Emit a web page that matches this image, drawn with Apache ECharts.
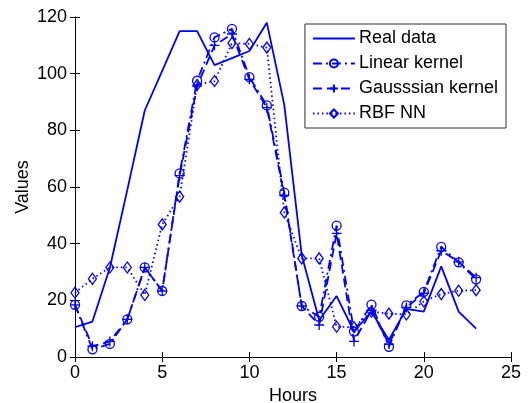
<!DOCTYPE html>
<html>
<head>
<meta charset="utf-8">
<script src="https://cdn.jsdelivr.net/npm/echarts@6/dist/echarts.min.js"></script>
<style>
  html, body { margin: 0; padding: 0; background: #fff; }
  #chart { width: 528px; height: 403px; }
</style>
</head>
<body>
<div id="chart"></div>
<script>
// hours 0..23
var hours = [0, 1, 2, 3, 4, 5, 6, 7, 8, 9, 10, 11, 12, 13, 14, 15, 16, 17, 18, 19, 20, 21, 22, 23];

var realData = [10.5, 12.5, 31.5, 59, 87, 101, 115, 115, 103, 105.5, 108, 118, 89, 36, 13, 21.5, 9, 16, 6, 17, 16, 32, 16, 10];
var linearKernel = [18.4, 2.7, 4.6, 13.3, 31.6, 23.3, 64.8, 97.5, 112.8, 115.8, 98.8, 88.8, 58, 18, 14.2, 46.4, 9, 18.5, 3.6, 18.2, 23, 38.9, 33.4, 27.4];
var gaussianKernel = [18.4, 3.8, 5.5, 13.3, 31.6, 23.3, 64, 95.6, 110, 114, 98, 88, 57, 18, 11.3, 43.6, 5.5, 16.5, 4.5, 17.5, 22.5, 37.5, 33.6, 28];
var rbfNN = [22.7, 27.6, 31.6, 31.6, 21.9, 46.8, 56.6, 96, 97.4, 110.8, 110.5, 109.2, 51, 34.8, 34.8, 10.7, 10.5, 16, 15.3, 15, 19.6, 22.2, 23.4, 23.6];

var xTicks = [0, 5, 10, 15, 20, 25];
var yTicks = [0, 20, 40, 60, 80, 100, 120];

var blue = '#0000ff';
var font = 'Arial, "Liberation Sans", sans-serif';

function pairs(vals) {
  return hours.map(function (h, i) { return [h, vals[i]]; });
}

function mkSeries(name, vals, dash, symbol, size) {
  var noMark = symbol === 'none';
  return {
    name: name,
    type: 'line',
    xAxisIndex: 0,
    yAxisIndex: 0,
    data: pairs(vals),
    color: blue,
    symbol: noMark ? 'circle' : symbol,
    symbolSize: size,
    showSymbol: !noMark,
    lineStyle: { color: blue, width: 1.8, type: dash },
    // no marker for real data: make the legend symbol invisible too
    itemStyle: { color: 'none', borderColor: noMark ? 'none' : blue, borderWidth: 1.3 },
    emphasis: { disabled: true },
    animation: false,
    z: 3
  };
}

var axisCommon = {
  type: 'value',
  axisLine: { show: true, lineStyle: { color: '#000', width: 1 } },
  axisTick: { show: true, inside: true, length: 5, lineStyle: { color: '#000' } },
  splitLine: { show: false }
};

var mychart = echarts.init(document.getElementById('chart'));

var option = {
  backgroundColor: '#fff',
  animation: false,
  grid: { left: 75, right: 17, top: 17, bottom: 46, containLabel: false, outerBoundsMode: 'none' },
  xAxis: [
    Object.assign({}, axisCommon, {
      min: xTicks[0], max: xTicks[xTicks.length - 1], interval: 5,
      position: 'bottom',
      name: 'Hours', nameLocation: 'middle', nameGap: 28,
      nameTextStyle: { color: '#000', fontSize: 18, fontFamily: font },
      axisLabel: { color: '#000', fontSize: 18, fontFamily: font, margin: 7 }
    }),
    Object.assign({}, axisCommon, {
      min: xTicks[0], max: xTicks[xTicks.length - 1], interval: 5,
      position: 'top',
      axisLabel: { show: false }
    })
  ],
  yAxis: [
    Object.assign({}, axisCommon, {
      min: yTicks[0], max: yTicks[yTicks.length - 1], interval: 20,
      position: 'left',
      name: 'Values', nameLocation: 'middle', nameGap: 43, nameMoveOverlap: false,
      nameTextStyle: { color: '#000', fontSize: 18, fontFamily: font },
      axisLabel: { color: '#000', fontSize: 18, fontFamily: font, margin: 8 }
    }),
    Object.assign({}, axisCommon, {
      min: yTicks[0], max: yTicks[yTicks.length - 1], interval: 20,
      position: 'right',
      axisLabel: { show: false }
    })
  ],
  legend: {
    orient: 'vertical',
    right: 22,
    top: 24,
    padding: [4, 8, 4, 7],
    itemWidth: 42,
    itemHeight: 10,
    itemGap: 4,
    backgroundColor: '#fff',
    borderColor: '#333',
    borderWidth: 1,
    borderRadius: 0,
    textStyle: { color: '#000', fontSize: 18, lineHeight: 21, fontFamily: font, padding: [0, 0, 0, -1] },
    data: ['Real data', 'Linear kernel', 'Gausssian kernel', 'RBF NN']
  },
  series: [
    mkSeries('Real data', realData, 'solid', 'none', 0),
    mkSeries('Linear kernel', linearKernel, [9, 4, 2, 4], 'circle', 9),
    mkSeries('Gausssian kernel', gaussianKernel, [9, 5], 'path://M0,5L10,5M5,0L5,10', 10),
    mkSeries('RBF NN', rbfNN, [1.5, 3], 'diamond', [8, 11])
  ]
};

mychart.setOption(option);
</script>
</body>
</html>
